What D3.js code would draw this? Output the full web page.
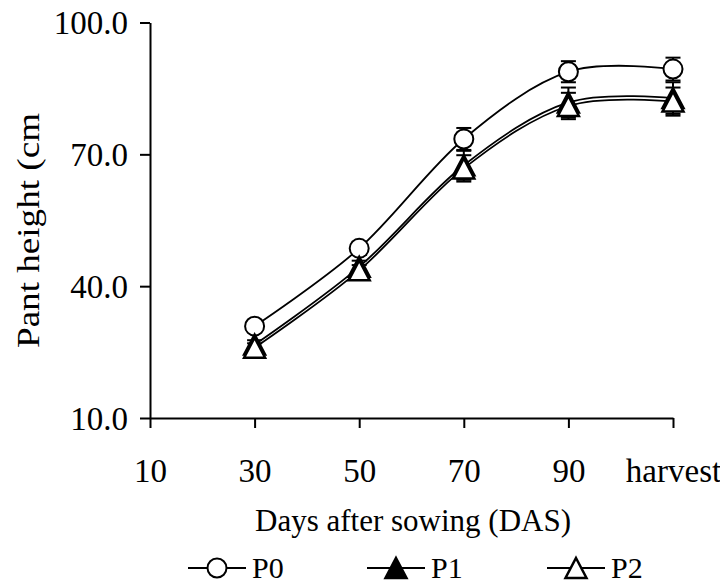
<!DOCTYPE html>
<html><head><meta charset="utf-8">
<script src="https://cdn.jsdelivr.net/npm/d3@7"></script>
<style>
html,body{margin:0;padding:0;background:#fff;}
svg text{font-family:"Liberation Serif","Times New Roman",serif;fill:#000;}
</style></head>
<body>
<svg id="chart" width="720" height="586"></svg>
<script>
const categories = ["10","30","50","70","90","harvest"];
const dataCats = ["30","50","70","90","harvest"];
const P0 = [30.9, 48.6, 73.5, 88.8, 89.4];
const P1 = [26.7, 44.4, 67.5, 81.8, 82.8];
const P2 = [26.0, 43.6, 66.8, 81.0, 82.0];
const P0err = [1.2, 1.5, 2.5, 2.4, 2.6];
const P1err = [1.0, 1.4, 3.3, 3.4, 3.6];
const P2err = [1.0, 1.2, 3.0, 3.0, 3.2];
const yTicks = [10, 40, 70, 100];
const seriesNames = ["P0","P1","P2"];

const svg = d3.select("#chart");
const x = d3.scalePoint().domain(categories).range([150, 673]);
const y = d3.scaleLinear().domain([10, 100]).range([418, 22.5]);

// axes
const yAxis = d3.axisLeft(y).tickValues(yTicks).tickFormat(d3.format(".1f")).tickSize(10).tickPadding(12).tickSizeOuter(0);
const gy = svg.append("g").attr("transform","translate(150,0)").call(yAxis);
const xAxis = d3.axisBottom(x).tickSize(10).tickPadding(0).tickSizeOuter(0);
const gx = svg.append("g").attr("transform","translate(0,418)").call(xAxis);
[gx, gy].forEach(g => {
  g.attr("font-family", null).attr("font-size", null);
  g.select(".domain").attr("stroke","#000").attr("stroke-width",2);
  g.selectAll(".tick line").attr("stroke","#000").attr("stroke-width",2);
  g.selectAll(".tick text").style("font-size","33px");
});
gy.selectAll(".tick text").attr("dy","0.34em");
gx.selectAll(".tick text").attr("dy",null).attr("y",64);

svg.append("text").attr("x",413).attr("y",531).attr("text-anchor","middle")
  .style("font-size","31px").text("Days after sowing (DAS)");
svg.append("text").attr("transform","translate(39,348) rotate(-90)")
  .attr("text-anchor","start").style("font-size","32px")
  .attr("textLength",235).attr("lengthAdjust","spacingAndGlyphs").text("Pant height (cm");

const series = [
  {name:"P0", vals:P0, err:P0err, sym:"circle"},
  {name:"P1", vals:P1, err:P1err, sym:"tri-fill"},
  {name:"P2", vals:P2, err:P2err, sym:"tri-open"}
];

const line = d3.line().x((d,i)=>x(dataCats[i])).y(d=>y(d)).curve(d3.curveCardinal.tension(0));

series.forEach(s => {
  svg.append("path").datum(s.vals).attr("d", line)
    .attr("fill","none").attr("stroke","#000").attr("stroke-width",1.8);
});

series.forEach(s => {
  const g = svg.append("g").attr("stroke","#000").attr("stroke-width",2);
  s.vals.forEach((v,i) => {
    const cx = x(dataCats[i]);
    const t = y(v + s.err[i]), b = y(v - s.err[i]);
    g.append("line").attr("x1",cx).attr("x2",cx).attr("y1",t).attr("y2",b);
    g.append("line").attr("x1",cx-7.5).attr("x2",cx+7.5).attr("y1",t).attr("y2",t);
    g.append("line").attr("x1",cx-7.5).attr("x2",cx+7.5).attr("y1",b).attr("y2",b);
  });
});

function marker(g, sym, cx, cy) {
  if (sym === "circle") {
    g.append("circle").attr("cx",cx).attr("cy",cy).attr("r",9.5)
      .attr("fill","#fff").attr("stroke","#000").attr("stroke-width",2);
  } else {
    const h = 20, w = 21;
    const pts = [[cx, cy-h/2],[cx+w/2, cy+h/2],[cx-w/2, cy+h/2]];
    g.append("path").attr("d", "M"+pts.map(p=>p.join(",")).join("L")+"Z")
      .attr("fill", sym === "tri-fill" ? "#000" : "#fff")
      .attr("stroke","#000").attr("stroke-width",2.5).attr("stroke-linejoin","miter");
  }
}

series.forEach(s => {
  const g = svg.append("g");
  s.vals.forEach((v,i) => marker(g, s.sym, x(dataCats[i]), y(v)));
});

// legend
const legX = [188, 367, 547];
series.forEach((s, k) => {
  const g = svg.append("g");
  const x0 = legX[k], ly = 568;
  g.append("line").attr("x1",x0).attr("x2",x0+58).attr("y1",ly).attr("y2",ly)
    .attr("stroke","#000").attr("stroke-width",2);
  marker(g, s.sym, x0+29, ly);
  g.append("text").attr("x",x0+64).attr("y",578).style("font-size","30px").text(seriesNames[k]);
});
</script>
</body></html>
